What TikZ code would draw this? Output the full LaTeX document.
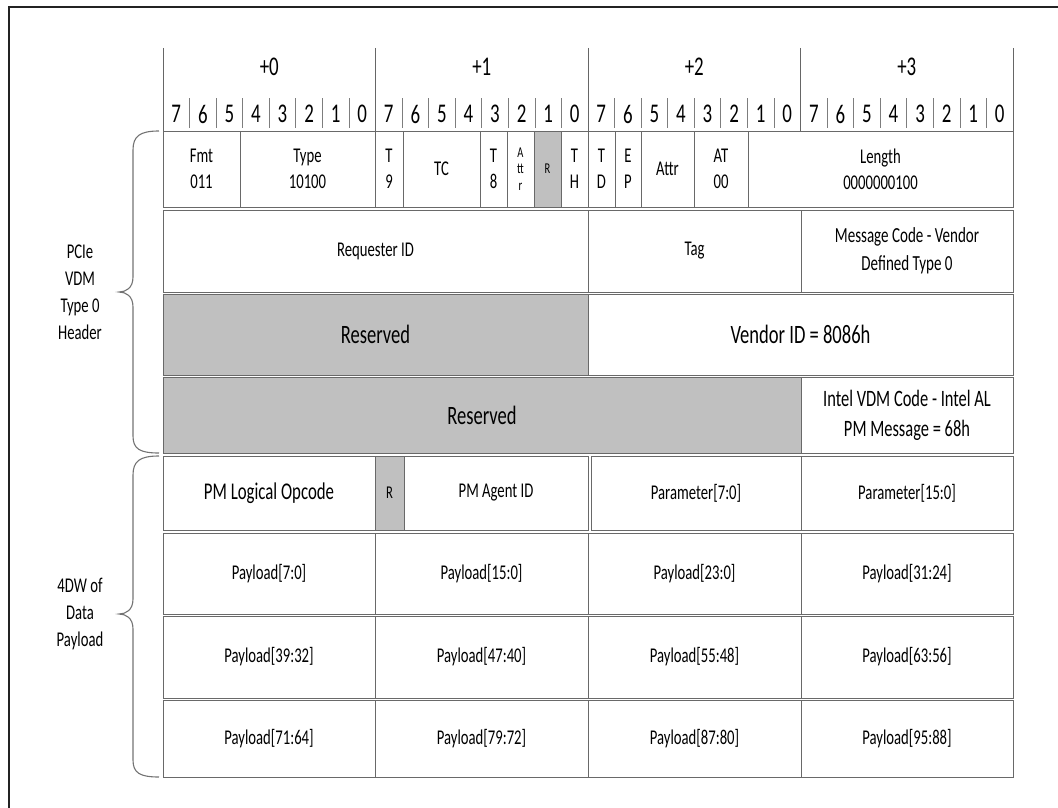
\documentclass[tikz,border=0pt]{standalone}
\usepackage{fontspec}
\setmainfont{Carlito}[FakeStretch=0.7]
\usetikzlibrary{shadows}
\definecolor{cellline}{RGB}{105,105,105}
\definecolor{resgray}{RGB}{192,192,192}
\definecolor{gridline}{RGB}{125,125,125}
\definecolor{framecol}{RGB}{35,35,35}
\newcommand\fsnorm{\fontsize{21}{26}\selectfont}
\newcommand\fsbig{\fontsize{26.5}{30}\selectfont}
\newcommand\fstiny{\fontsize{15}{16.5}\selectfont}
\newcommand\fsdigit{\fontsize{27}{27}\selectfont}
\newcommand\fsvdm{\fontsize{23.5}{30}\selectfont}
\newcommand\fsmsg{\fontsize{21.5}{28}\selectfont}
\newcommand\fsop{\fontsize{24}{28}\selectfont}
\newcommand\mkcell[7]{%
  \node[cellst,#1,minimum width={(#5)-(#3)},minimum height={(#6)-(#4)}] (#2) at ({((#3)+(#5))/2},{((#4)+(#6))/2}) {#7};}
\begin{document}
\begin{tikzpicture}[x=1pt,y=-1pt,
  cellst/.style={draw=cellline, line width=0.9pt, fill=white, inner sep=0pt, align=center,
    text=black, font=\fsnorm,
    drop shadow={shadow xshift=1.3pt, shadow yshift=-1.3pt, fill=black!20}},
  resv/.style={fill=resgray},
  bigtxt/.style={font=\fsbig},
  tinytxt/.style={font=\fstiny},
  digit/.style={font=\fsdigit, inner sep=0pt, text=black},
  bytelbl/.style={font=\fsdigit, inner sep=0pt, text=black},
  bitsep/.style={draw=gridline, line width=0.7pt},
  bytesep/.style={draw=black!60, line width=0.9pt},
  sidelbl/.style={font=\fontsize{21}{27}\selectfont, align=center, inner sep=0pt, text=black},
  bracest/.style={draw=black!55, line width=1.1pt},
  framest/.style={draw=framecol, line width=2pt}]
\useasboundingbox (0,0) rectangle (1058,808);
% outer frame (cut at right and bottom)
\draw[framest] (9,808) -- (9,7) -- (1058,7);
% byte / bit header
\foreach \k in {0,...,4} \draw[bytesep] ({163+\k*212.5},48) -- ({163+\k*212.5},131);
\foreach \k in {1,...,31} {
  \pgfmathtruncatemacro\mm{mod(\k,8)}
  \ifnum\mm>0 \draw[bitsep] ({163+\k*26.5625},98) -- ({163+\k*26.5625},128); \fi
}
\foreach \k in {0,...,3} \node[bytelbl] (B\k) at ({163+(\k+0.5)*212.5},67) {+\k};
\foreach \k in {0,...,31} {
  \pgfmathtruncatemacro\bitv{7-mod(\k,8)}
  \node[digit] (b\k) at ({163+(\k+0.5)*26.5625},114) {\bitv};
}
% row 1
\mkcell{}{fmt}{163}{131}{240}{207}{Fmt\\011}
\mkcell{}{type}{240}{131}{375}{207}{Type\\10100}
\mkcell{}{t9}{375}{131}{403}{207}{T\\9}
\mkcell{}{tc}{403}{131}{480}{207}{TC}
\mkcell{}{t8}{480}{131}{507}{207}{T\\8}
\mkcell{tinytxt}{attra}{507}{131}{534}{207}{A\\tt\\r}
\mkcell{resv,tinytxt}{ra}{534}{131}{561}{207}{R}
\mkcell{}{th}{561}{131}{588}{207}{T\\H}
\mkcell{}{td}{588}{131}{615}{207}{T\\D}
\mkcell{}{ep}{615}{131}{641}{207}{E\\P}
\mkcell{}{attrb}{641}{131}{694}{207}{Attr}
\mkcell{}{at}{694}{131}{748}{207}{AT\\00}
\mkcell{}{len}{748}{131}{1013}{207}{Length\\0000000100}
% row 2
\mkcell{}{req}{163}{210}{588}{292}{Requester ID}
\mkcell{}{tag}{588}{210}{801}{292}{Tag}
\mkcell{font=\fsmsg}{msg}{801}{210}{1013}{292}{Message Code - Vendor\\Defined Type 0}
% row 3
\mkcell{resv,bigtxt}{resa}{163}{294}{588}{375}{Reserved}
\mkcell{bigtxt}{vid}{588}{294}{1013}{375}{Vendor ID = 8086h}
% row 4
\mkcell{resv,bigtxt}{resb}{163}{377}{801}{453}{Reserved}
\mkcell{font=\fsvdm}{vdm}{801}{377}{1013}{453}{Intel VDM Code - Intel AL\\PM Message = 68h}
% row 5
\mkcell{font=\fsop}{op}{163}{456}{375}{530}{\raisebox{3pt}{PM Logical Opcode}}
\mkcell{resv,font=\fontsize{18}{20}\selectfont}{rb}{375}{456}{404}{530}{R}
\mkcell{}{agent}{404}{456}{588}{530}{PM Agent ID}
\mkcell{}{pa}{591}{456}{801}{530}{Parameter[7:0]}
\mkcell{}{pb}{801}{456}{1013}{530}{Parameter[15:0]}
% rows 6-8
\mkcell{}{pl1}{163}{533}{375}{614}{Payload[7:0]}
\mkcell{}{pl2}{375}{533}{588}{614}{Payload[15:0]}
\mkcell{}{pl3}{588}{533}{801}{614}{Payload[23:0]}
\mkcell{}{pl4}{801}{533}{1013}{614}{Payload[31:24]}
\mkcell{}{pl5}{163}{616}{375}{698}{Payload[39:32]}
\mkcell{}{pl6}{375}{616}{588}{698}{Payload[47:40]}
\mkcell{}{pl7}{588}{616}{801}{698}{Payload[55:48]}
\mkcell{}{pl8}{801}{616}{1013}{698}{Payload[63:56]}
\mkcell{}{pl9}{163}{700}{375}{777}{Payload[71:64]}
\mkcell{}{pl10}{375}{700}{588}{777}{Payload[79:72]}
\mkcell{}{pl11}{588}{700}{801}{777}{Payload[87:80]}
\mkcell{}{pl12}{801}{700}{1013}{777}{Payload[95:88]}
% braces
\draw[bracest] (159,131) .. controls (140,131) and (133,136) .. (133,150) -- (133,277)
  .. controls (133,288) and (126,292) .. (119,292)
  .. controls (126,292) and (133,296) .. (133,307) -- (133,436)
  .. controls (133,449) and (140,453) .. (159,453);
\draw[bracest] (159,456) .. controls (140,456) and (133,461) .. (133,475) -- (133,599)
  .. controls (133,610) and (126,614) .. (119,614)
  .. controls (126,614) and (133,618) .. (133,629) -- (133,760)
  .. controls (133,773) and (140,777) .. (159,777);
% side labels
\node[sidelbl] (hdrlbl) at (80,292) {PCIe\\VDM\\Type 0\\Header};
\node[sidelbl] (paylbl) at (80,614) {4DW of\\Data\\Payload};
\end{tikzpicture}
\end{document}
